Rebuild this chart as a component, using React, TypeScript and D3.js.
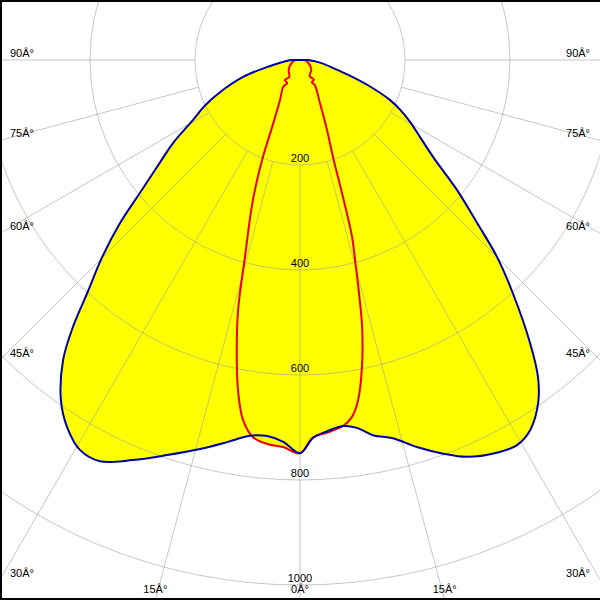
import React from 'react';
import * as d3 from 'd3';

const radiusTicks = [200, 400, 600, 800, 1000];
const angleTicks = [0, 15, 30, 45, 60, 75, 90];

// Blue curve (filled), right half: angle from nadir (deg) and intensity (cd)
const blueRightAngles = [0, 2, 4.2, 6.7, 8.8, 11, 13.8, 16.8, 20, 22.8, 27, 29.4, 31.9, 34.8, 36.9, 39.1, 42.4, 45, 47.4, 50.4, 53.9, 57, 60.6, 63.5, 66, 69.5, 73, 76.4, 82, 86.6, 90];
const blueRightValues = [749, 720, 709, 702, 709, 728, 742, 770, 798, 820, 838, 842, 830, 795, 755, 695, 601, 531, 458, 388, 314, 275, 241, 214, 188, 140, 95, 65, 40, 24, 16];
// Blue curve, left half
const blueLeftAngles = [0, 2.5, 5, 7.6, 10.8, 14.4, 18.6, 22.7, 26.5, 29.4, 32.4, 35.1, 38.3, 40.4, 42.4, 45.1, 47.8, 50.3, 53.2, 56.8, 60.7, 64.5, 68, 73.4, 78, 86.6, 90];
const blueLeftValues = [749, 728, 719, 722, 741, 765, 794, 826, 854, 853, 828, 792, 728, 667, 601, 532, 463, 396, 340, 289, 234, 200, 165, 113, 64, 24, 16];
// Red curve, left half (path order)
const redLeftAngles = [0, 2.5, 4.9, 7.1, 9.0, 10.5, 11.9, 13.9, 15.6, 18.6, 20.9, 22.5, 26.6, 32, 29.2, 36.9, 32.6, 50, 77.9, 90];
const redLeftValues = [749, 738, 734, 724, 694, 645, 584, 491, 390, 281, 198, 140, 85, 60, 50, 48, 38, 28, 14, 8];
// Red curve, right half (path order)
const redRightAngles = [0, 2.0, 4.1, 6.7, 8.3, 9.7, 11.4, 13.1, 14.2, 15.4, 16.4, 17.4, 18.8, 21.1, 24.9, 30.6, 28, 35, 31, 50, 77.9, 90];
const redRightValues = [749, 719, 712, 702, 687, 657, 597, 522, 458, 395, 351, 274, 195, 143, 90, 55, 48, 46, 36, 28, 14, 8];

const DEG = '\u00C2\u00B0';

export default function App() {
  const W = 600, H = 600, cx = 300, cy = 60;
  const r = d3.scaleLinear().domain([0, 1000]).range([0, 525]);

  const pt = (deg: number, v: number, side: number): [number, number] => {
    const a = side > 0 ? Math.PI - (deg * Math.PI) / 180 : Math.PI + (deg * Math.PI) / 180;
    const [x, y] = d3.pointRadial(a, r(v));
    return [cx + x, cy + y];
  };

  const buildPath = (ra: number[], rv: number[], la: number[], lv: number[]) => {
    const pts: [number, number][] = [];
    for (let i = ra.length - 1; i >= 0; i--) pts.push(pt(ra[i], rv[i], 1));
    for (let i = 1; i < la.length; i++) pts.push(pt(la[i], lv[i], -1));
    const line = d3.line().curve(d3.curveCatmullRom.alpha(0.5));
    return (line(pts) || '') + 'Z';
  };

  const blueD = buildPath(blueRightAngles, blueRightValues, blueLeftAngles, blueLeftValues);
  const redD = buildPath(redRightAngles, redRightValues, redLeftAngles, redLeftValues);

  const gridStroke = '#a0a0a0';
  const gridOpacity = 0.6;

  const spokes: { x1: number; y1: number; x2: number; y2: number; key: string }[] = [];
  angleTicks.forEach((a) => {
    const sides = a === 0 ? [1] : [1, -1];
    sides.forEach((s) => {
      const [x1, y1] = pt(a, 200, s);
      const [x2, y2] = pt(a, 1400, s);
      spokes.push({ x1, y1, x2, y2, key: `${a}_${s}` });
    });
  });

  // angle labels at chart border
  const angleLabels: { x: number; y: number; anchor: string; text: string; key: string }[] = [];
  angleTicks.forEach((a) => {
    const sides = a === 0 ? [1] : [1, -1];
    sides.forEach((s) => {
      const rad = (a * Math.PI) / 180;
      const edgeY = a === 0 ? Infinity : cy + (cx / Math.sin(rad)) * Math.cos(rad);
      if (edgeY < H - 10) {
        angleLabels.push({
          x: s > 0 ? W - 10 : 10,
          y: edgeY - 3,
          anchor: s > 0 ? 'end' : 'start',
          text: `${a}${DEG}`,
          key: `${a}_${s}`,
        });
      } else {
        const bx = cx + s * (H - cy) * Math.tan(rad);
        angleLabels.push({ x: bx, y: 593, anchor: 'middle', text: `${a}${DEG}`, key: `${a}_${s}` });
      }
    });
  });

  return (
    <div style={{ position: 'absolute', left: 0, top: 0 }}>
      <svg width={W} height={H} style={{ display: 'block', background: '#ffffff' }}>
        <rect x={0} y={0} width={W} height={H} fill="#ffffff" />
        <path d={blueD} fill="#ffff00" stroke="none" />
        <path d={redD} fill="#ffff00" stroke="none" />
        <g stroke={gridStroke} strokeOpacity={gridOpacity} fill="none" strokeWidth={1}>
          {radiusTicks.map((v) => (
            <circle key={v} cx={cx} cy={cy} r={r(v)} />
          ))}
          {spokes.map((l) => (
            <line key={l.key} x1={l.x1} y1={l.y1} x2={l.x2} y2={l.y2} />
          ))}
        </g>
        <path d={redD} fill="none" stroke="#e80000" strokeWidth={2} strokeLinejoin="round" />
        <path d={blueD} fill="none" stroke="#0000aa" strokeWidth={2} strokeLinejoin="round" />
        <g fontFamily="'Liberation Sans', Arial, sans-serif" fontSize={11} fill="#000">
          {radiusTicks.map((v) => (
            <text key={v} x={cx} y={cy + r(v) - 3} textAnchor="middle">
              {v}
            </text>
          ))}
          {angleLabels.map((l) => (
            <text key={l.key} x={l.x} y={l.y} textAnchor={l.anchor as any}>
              {l.text}
            </text>
          ))}
        </g>
        <rect x={0} y={0} width={2} height={H} fill="#000" />
        <rect x={0} y={0} width={W} height={2} fill="#000" />
        <rect x={0} y={H - 2} width={W} height={2} fill="#000" />
      </svg>
    </div>
  );
}
